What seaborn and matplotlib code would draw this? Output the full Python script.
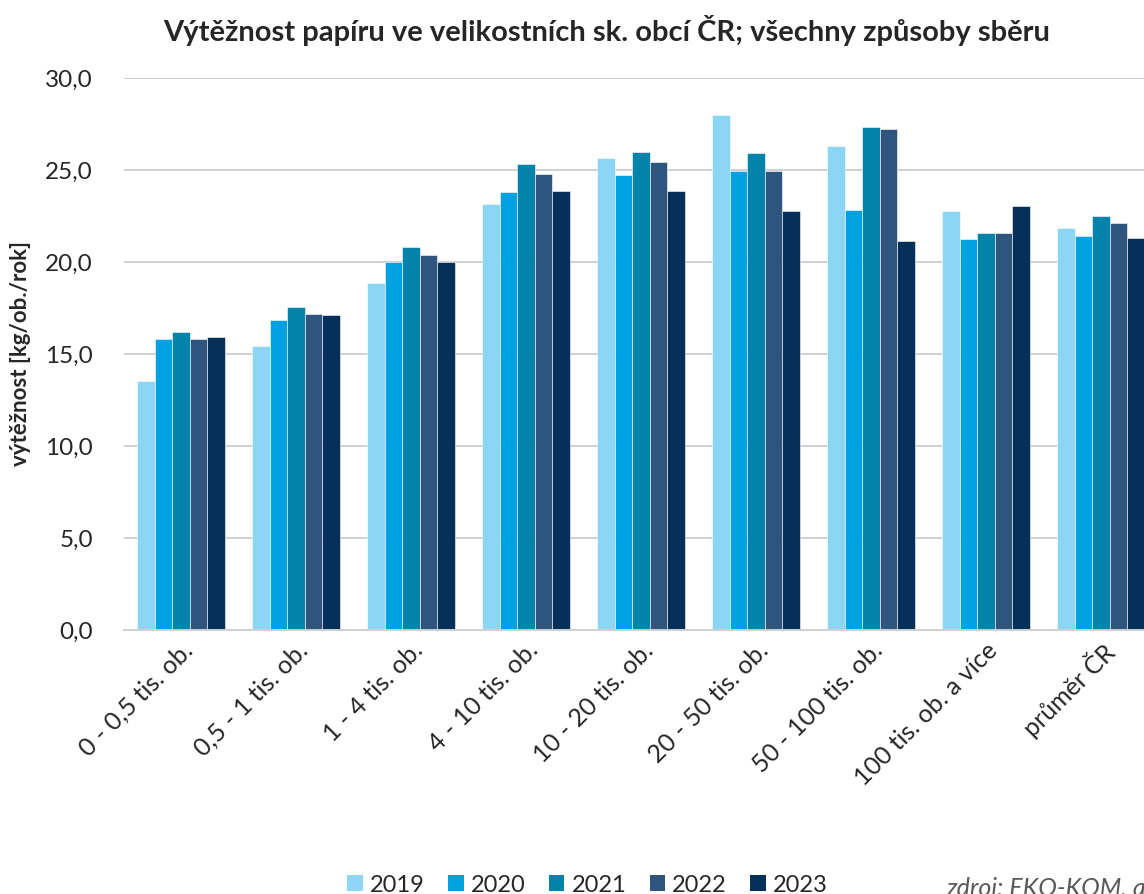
import matplotlib
matplotlib.use("Agg")
import matplotlib.pyplot as plt
import seaborn as sns
import pandas as pd
from matplotlib.ticker import FuncFormatter
from matplotlib.patches import Patch

categories = ["0 - 0,5 tis. ob.", "0,5 - 1 tis. ob.", "1 - 4 tis. ob.", "4 - 10 tis. ob.",
              "10 - 20 tis. ob.", "20 - 50 tis. ob.", "50 - 100 tis. ob.",
              "100 tis. ob. a více", "průměr ČR"]
years = ["2019", "2020", "2021", "2022", "2023"]
v2019 = [13.55, 15.45, 18.85, 23.15, 25.65, 28.0, 26.3, 22.75, 21.85]
v2020 = [15.8, 16.85, 20.0, 23.8, 24.75, 24.97, 22.8, 21.25, 21.4]
v2021 = [16.2, 17.55, 20.8, 25.3, 26.0, 25.95, 27.35, 21.6, 22.5]
v2022 = [15.8, 17.2, 20.4, 24.8, 25.45, 24.92, 27.25, 21.55, 22.12]
v2023 = [15.95, 17.1, 20.0, 23.88, 23.88, 22.75, 21.15, 23.05, 21.3]
colors = ["#8DD5F5", "#00A1E0", "#0382AA", "#2F547E", "#04305A"]

rows = []
for y, vals in zip(years, [v2019, v2020, v2021, v2022, v2023]):
    for c, v in zip(categories, vals):
        rows.append({"kat": c, "rok": y, "val": v})
df = pd.DataFrame(rows)

sns.set_style("white")
plt.rcParams['font.family'] = ['Lato', 'DejaVu Sans']

fig = plt.figure(figsize=(11.44, 8.94), dpi=100)
ax = fig.add_axes([123.5/1144, 264/894, 1035/1144, 552/894])

sns.barplot(data=df, x="kat", y="val", hue="rok", palette=colors, width=0.765,
            edgecolor="white", linewidth=0.4, ax=ax, legend=False, saturation=1)

ax.set_ylim(0, 30)
ax.set_xlim(-0.5, len(categories) - 0.5)
ax.set_yticks([0, 5, 10, 15, 20, 25, 30])
ax.yaxis.set_major_formatter(FuncFormatter(lambda v, p: f"{v:.1f}".replace(".", ",")))
ax.grid(axis="y", color="#D0D0D0", linewidth=1.4)
ax.set_axisbelow(True)
for s in ["top", "right", "left"]:
    ax.spines[s].set_visible(False)
ax.spines["bottom"].set_color("#D0D0D0")
ax.spines["bottom"].set_linewidth(1.4)
ax.tick_params(axis="y", length=0, labelsize=17.5, pad=22)
ax.tick_params(axis="x", length=0, labelsize=18, pad=6)
for lab in ax.get_xticklabels():
    lab.set_rotation(45)
    lab.set_ha("right")
    lab.set_rotation_mode("anchor")
ax.set_xlabel("")
ax.set_ylabel("výtěžnost [kg/ob./rok]", fontsize=16, fontweight="bold", labelpad=10)

fig.text(0.53, 0.966, "Výtěžnost papíru ve velikostních sk. obcí ČR; všechny způsoby sběru",
         ha="center", va="center", fontsize=21, fontweight="bold")

handles = [Patch(facecolor=c, edgecolor="none") for c in colors]
fig.legend(handles, years, loc="center", bbox_to_anchor=(587.5/1144, 1 - 885/894), ncol=5,
           frameon=False, fontsize=17, handlelength=0.65, handleheight=0.65,
           handletextpad=0.3, columnspacing=1.0, borderpad=0.2)
fig.text(946/1144, 1 - 888/894, "zdroj: EKO-KOM, a.s.", ha="left", va="center",
         fontsize=18, style="italic", color="#595959")

fig.savefig("out.png", dpi=100)
